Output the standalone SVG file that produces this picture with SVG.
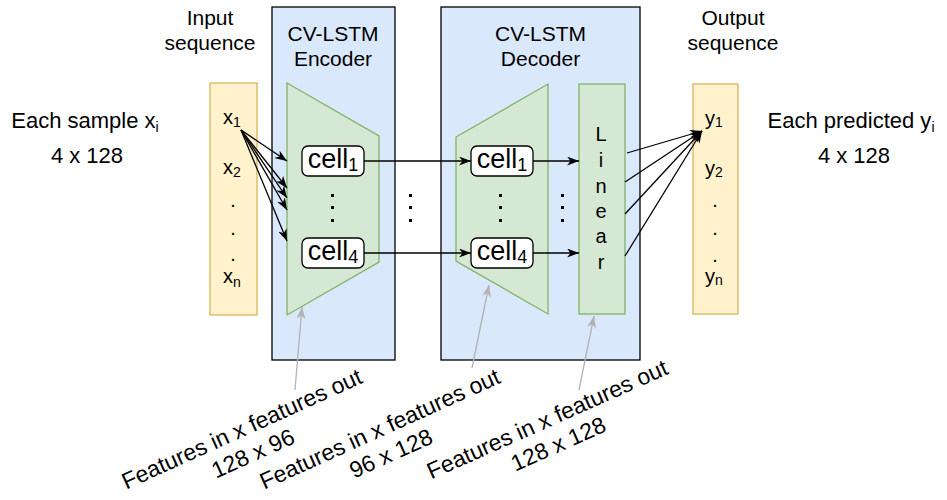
<svg xmlns="http://www.w3.org/2000/svg" width="947" height="500" viewBox="0 0 947 500">
  <style>
    text { font-family: "Liberation Sans", Arial, Helvetica, sans-serif; fill: #000; text-anchor: middle; }
    .hdr { font-size: 21px; }
    .side { font-size: 22px; }
    .seq { font-size: 20px; }
    .sub { font-size: 14px; }
    .cellt { font-size: 27px; }
    .cellsub { font-size: 18px; }
    .note { font-size: 23px; }
    .block { fill: #dae8fc; stroke: #000; stroke-width: 1.3; }
    .green { fill: #d5e8d4; stroke: #82b366; stroke-width: 1.3; }
    .yellow { fill: #fff2cc; stroke: #d6b656; stroke-width: 1.3; }
    .cell { fill: #fff; stroke: #000; stroke-width: 1.3; }
    .dot { fill: #000; }
    .wire { fill: none; stroke: #000; stroke-width: 1.3; marker-end: url(#arr); }
    .pointer { fill: none; stroke: #b3b3b3; stroke-width: 1.3; marker-end: url(#arrGrey); }
  </style>
  <defs>
    <marker id="arr" viewBox="0 0 12 9" refX="12" refY="4.5" markerWidth="12" markerHeight="9" orient="auto" markerUnits="userSpaceOnUse">
      <path d="M0,0 L12,4.5 L0,9 L3.5,4.5 z" fill="#000"/>
    </marker>
    <marker id="arrGrey" viewBox="0 0 12 9" refX="12" refY="4.5" markerWidth="12" markerHeight="9" orient="auto" markerUnits="userSpaceOnUse">
      <path d="M0,0 L12,4.5 L0,9 L3.5,4.5 z" fill="#b3b3b3"/>
    </marker>
  </defs>

  <!-- side captions -->
  <g id="sample-caption">
    <text class="side" x="85" y="128">Each sample x<tspan class="sub" dy="4">i</tspan></text>
    <text class="side" x="87" y="163">4 x 128</text>
  </g>
  <g id="predicted-caption">
    <text class="side" x="851" y="128">Each predicted y<tspan class="sub" dy="4">i</tspan></text>
    <text class="side" x="854" y="163">4 x 128</text>
  </g>

  <!-- input sequence -->
  <g id="input-sequence">
    <text class="hdr" x="210" y="25">Input</text>
    <text class="hdr" x="210" y="50">sequence</text>
    <rect class="yellow" x="210" y="83" width="47" height="232"/>
    <text class="seq" x="232" y="124">x<tspan class="sub" dy="3">1</tspan></text>
    <text class="seq" x="232" y="174">x<tspan class="sub" dy="3">2</tspan></text>
    <text class="seq" x="233" y="207">.</text>
    <text class="seq" x="233" y="235">.</text>
    <text class="seq" x="233" y="261">.</text>
    <text class="seq" x="232" y="283">x<tspan class="sub" dy="4">n</tspan></text>
  </g>

  <!-- encoder -->
  <g id="encoder">
    <rect class="block" x="272" y="7" width="123" height="353"/>
    <text class="hdr" x="333" y="41">CV-LSTM</text>
    <text class="hdr" x="333" y="66">Encoder</text>
    <polygon class="green" points="287,83 379,136 379,262 287,315"/>
    <rect class="dot" x="331" y="194" width="3" height="3"/>
    <rect class="dot" x="331" y="206" width="3" height="3"/>
    <rect class="dot" x="331" y="219" width="3" height="3"/>
  </g>
  <g id="enc-cell1">
    <rect class="cell" x="302" y="146" width="62" height="30" rx="6"/>
    <text class="cellt" x="333" y="168">cell<tspan class="cellsub" dy="3">1</tspan></text>
  </g>
  <g id="enc-cell4">
    <rect class="cell" x="302" y="238" width="62" height="30" rx="6"/>
    <text class="cellt" x="333" y="260">cell<tspan class="cellsub" dy="3">4</tspan></text>
  </g>

  <!-- decoder -->
  <g id="decoder">
    <rect class="block" x="441" y="7" width="199" height="353"/>
    <text class="hdr" x="540.5" y="41">CV-LSTM</text>
    <text class="hdr" x="540.5" y="66">Decoder</text>
    <polygon class="green" points="456,137 548,84 548,314 456,261"/>
    <rect class="dot" x="499" y="194" width="3" height="3"/>
    <rect class="dot" x="499" y="206" width="3" height="3"/>
    <rect class="dot" x="499" y="219" width="3" height="3"/>
  </g>
  <g id="dec-cell1">
    <rect class="cell" x="471" y="146" width="62" height="30" rx="6"/>
    <text class="cellt" x="502" y="168">cell<tspan class="cellsub" dy="3">1</tspan></text>
  </g>
  <g id="dec-cell4">
    <rect class="cell" x="471" y="238" width="62" height="30" rx="6"/>
    <text class="cellt" x="502" y="260">cell<tspan class="cellsub" dy="3">4</tspan></text>
  </g>
  <g id="linear">
    <rect class="green" x="579" y="84" width="46" height="230"/>
    <text class="seq" x="601" y="141">L</text>
    <text class="seq" x="601" y="167">i</text>
    <text class="seq" x="601" y="193">n</text>
    <text class="seq" x="601" y="218">e</text>
    <text class="seq" x="601" y="243">a</text>
    <text class="seq" x="601" y="269">r</text>
  </g>

  <!-- stacked-layer ellipses between blocks -->
  <g id="gap-dots">
    <rect class="dot" x="409" y="194" width="3" height="3"/>
    <rect class="dot" x="409" y="206" width="3" height="3"/>
    <rect class="dot" x="409" y="219" width="3" height="3"/>
    <rect class="dot" x="561" y="194" width="3" height="3"/>
    <rect class="dot" x="561" y="206" width="3" height="3"/>
    <rect class="dot" x="561" y="219" width="3" height="3"/>
  </g>

  <!-- output sequence -->
  <g id="output-sequence">
    <text class="hdr" x="733" y="25">Output</text>
    <text class="hdr" x="733" y="50">sequence</text>
    <rect class="yellow" x="693" y="84" width="45" height="230"/>
    <text class="seq" x="714" y="125">y<tspan class="sub" dy="2">1</tspan></text>
    <text class="seq" x="714" y="175">y<tspan class="sub" dy="2">2</tspan></text>
    <text class="seq" x="715" y="207">.</text>
    <text class="seq" x="715" y="235">.</text>
    <text class="seq" x="715" y="262">.</text>
    <text class="seq" x="714" y="283">y<tspan class="sub" dy="2">n</tspan></text>
  </g>

  <!-- layer-size annotations -->
  <g id="note-encoder" transform="translate(245,436) rotate(-24.3)">
    <text class="note" x="0" y="0">Features in x features out</text>
    <text class="note" x="0" y="27">128 x 96</text>
  </g>
  <g id="note-decoder" transform="translate(383,436) rotate(-24.3)">
    <text class="note" x="0" y="0">Features in x features out</text>
    <text class="note" x="0" y="27">96 x 128</text>
  </g>
  <g id="note-linear" transform="translate(550.5,426.5) rotate(-24)">
    <text class="note" x="0" y="0">Features in x features out</text>
    <text class="note" x="0" y="27">128 x 128</text>
  </g>

  <!-- connectors -->
  <g id="connectors">
    <line class="wire" x1="241" y1="130" x2="287" y2="161"/>
    <line class="wire" x1="241" y1="130" x2="287" y2="188"/>
    <line class="wire" x1="241" y1="130" x2="287" y2="198"/>
    <line class="wire" x1="241" y1="130" x2="287" y2="210"/>
    <line class="wire" x1="241" y1="130" x2="287" y2="241"/>
    <line class="wire" x1="364" y1="161" x2="471" y2="161"/>
    <line class="wire" x1="364" y1="253" x2="471" y2="253"/>
    <line class="wire" x1="533" y1="161" x2="579" y2="161"/>
    <line class="wire" x1="533" y1="253" x2="579" y2="253"/>
    <line class="wire" x1="627" y1="153" x2="702" y2="131"/>
    <line class="wire" x1="625" y1="182" x2="702" y2="131"/>
    <line class="wire" x1="625" y1="214" x2="702" y2="131"/>
    <line class="wire" x1="625" y1="256" x2="702" y2="131"/>
    <line class="pointer" x1="295" y1="390" x2="302" y2="307"/>
    <line class="pointer" x1="472" y1="368" x2="489" y2="285"/>
    <line class="pointer" x1="579" y1="390" x2="594" y2="316"/>
  </g>
</svg>
